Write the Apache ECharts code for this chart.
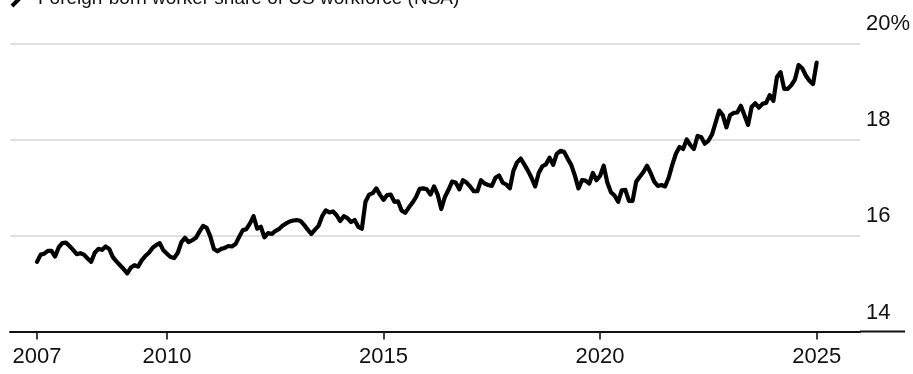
<!DOCTYPE html>
<html><head><meta charset="utf-8">
<script src="https://cdn.jsdelivr.net/npm/echarts@6/dist/echarts.min.js"></script>
<style>html,body{margin:0;padding:0;background:#fff}#c{width:913px;height:374px}</style>
</head><body><div id="c"></div>
<script>
const seriesName = 'Foreign-born worker share of US workforce (NSA)';
const firstYear = 2007; // monthly data starting January 2007

const share2007to2010 = [
  15.45, 15.60, 15.62, 15.68, 15.68, 15.56, 15.75, 15.84, 15.85, 15.78, 15.70, 15.61,
  15.63, 15.60, 15.52, 15.45, 15.64, 15.72, 15.70, 15.77, 15.72, 15.55, 15.46, 15.38,
  15.30, 15.21, 15.33, 15.38, 15.35, 15.48, 15.57, 15.64, 15.74, 15.80, 15.84, 15.69,
  15.62, 15.55, 15.53, 15.64, 15.86, 15.95, 15.86, 15.90, 15.95, 16.08, 16.20, 16.16
];
const share2011to2014 = [
  15.98, 15.72, 15.67, 15.72, 15.74, 15.78, 15.77, 15.82, 15.97, 16.11, 16.13, 16.25,
  16.40, 16.14, 16.18, 15.96, 16.05, 16.03, 16.09, 16.13, 16.20, 16.25, 16.29, 16.31,
  16.32, 16.30, 16.22, 16.12, 16.03, 16.12, 16.20, 16.40, 16.52, 16.48, 16.50, 16.42,
  16.30, 16.40, 16.36, 16.28, 16.32, 16.18, 16.14, 16.70, 16.85, 16.88, 16.98, 16.85
];
const share2015to2018 = [
  16.74, 16.84, 16.85, 16.70, 16.71, 16.52, 16.47, 16.58, 16.68, 16.80, 16.97, 16.98,
  16.96, 16.85, 17.02, 16.85, 16.55, 16.80, 16.95, 17.12, 17.10, 16.96, 17.15, 17.10,
  17.02, 16.92, 16.92, 17.15, 17.08, 17.05, 17.03, 17.20, 17.25, 17.10, 17.06, 16.98,
  17.35, 17.52, 17.60, 17.48, 17.35, 17.20, 17.02, 17.30, 17.44, 17.48, 17.62, 17.47
];
const share2019to2022 = [
  17.70, 17.76, 17.74, 17.60, 17.47, 17.25, 16.98, 17.15, 17.14, 17.08, 17.30, 17.15,
  17.24, 17.45, 17.10, 16.90, 16.83, 16.70, 16.94, 16.95, 16.72, 16.72, 17.12, 17.22,
  17.32, 17.45, 17.30, 17.12, 17.03, 17.05, 17.02, 17.20, 17.47, 17.70, 17.84, 17.80,
  18.00, 17.88, 17.80, 18.07, 18.05, 17.91, 17.97, 18.10, 18.35, 18.60, 18.50, 18.25
];
const share2023to2025 = [
  18.50, 18.55, 18.56, 18.70, 18.50, 18.30, 18.68, 18.75, 18.66, 18.74, 18.76, 18.92,
  18.80, 19.30, 19.40, 19.05, 19.05, 19.13, 19.25, 19.55, 19.48, 19.33, 19.22, 19.15,
  19.60
];

const xTickYears = [2007, 2010, 2015, 2020, 2025];
const yTickValues = [14, 16, 18, 20];
const yTickLabels = ['14', '16', '18', '20%'];

const shareValues = [].concat(share2007to2010, share2011to2014, share2015to2018, share2019to2022, share2023to2025);
const seriesData = shareValues.map((v, i) => [firstYear + i / 12, v]);

const FONT = '"Liberation Sans", Arial, sans-serif';
const chart = echarts.init(document.getElementById('c'), null, {renderer: 'canvas'});
chart.setOption({
  animation: false,
  backgroundColor: '#fff',
  grid: {left: 10, right: 51, top: 43.3, bottom: 42.5, containLabel: false},
  xAxis: {
    type: 'value', min: 2006.376, max: 2026.0,
    axisLine: {show: true, lineStyle: {color: '#111', width: 1.8}},
    axisTick: {show: true, length: 8, customValues: xTickYears, lineStyle: {color: '#111', width: 1.6}},
    axisLabel: {customValues: xTickYears, formatter: v => String(Math.round(v)),
      fontFamily: FONT, fontSize: 22, color: '#111', margin: 14},
    splitLine: {show: false}
  },
  yAxis: {
    type: 'value', position: 'right', min: 14, max: 20, interval: 2,
    axisLine: {show: false}, axisTick: {show: false},
    axisLabel: {
      formatter: v => { const i = yTickValues.indexOf(Math.round(v)); return i >= 0 ? yTickLabels[i] : ''; },
      fontFamily: FONT, fontSize: 22, color: '#111', align: 'left', verticalAlign: 'bottom',
      margin: 6, padding: [0, 0, 8, 0]
    },
    splitLine: {lineStyle: {color: '#d6d6d6', width: 1.5}}
  },
  series: [{
    name: seriesName, type: 'line', data: seriesData, showSymbol: false, symbol: 'none',
    lineStyle: {color: '#000', width: 4.2, join: 'round', cap: 'round'}
  }]
});

const y14 = chart.convertToPixel({yAxisIndex: 0}, 14);
const xEnd = chart.convertToPixel({xAxisIndex: 0}, 2026.0);
chart.setOption({
  graphic: [
    {type: 'line', shape: {x1: xEnd, y1: y14, x2: 905, y2: y14}, style: {stroke: '#111', lineWidth: 1.8}},
    {type: 'line', shape: {x1: 12, y1: 6, x2: 20, y2: -2}, style: {stroke: '#000', lineWidth: 4}},
    {type: 'text', style: {text: seriesName, x: 38, y: -1, fill: '#111',
      fontSize: 19, fontFamily: FONT, verticalAlign: 'middle', align: 'left'}}
  ]
});
</script></body></html>
